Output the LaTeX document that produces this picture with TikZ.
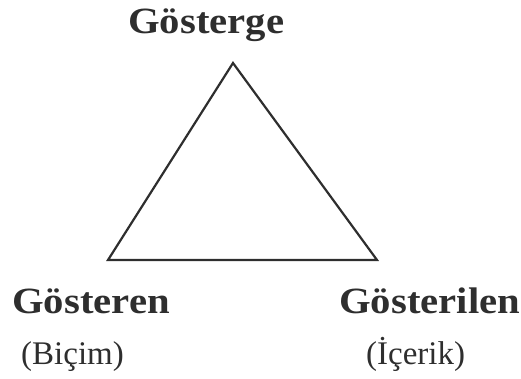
\documentclass[tikz,border=0pt]{standalone}
\usepackage{fontspec}
\setmainfont{Liberation Serif}
\definecolor{ink}{HTML}{2E2E2E}
\tikzset{
  title/.style={inner sep=0pt, anchor=base west, text=ink, font=\fontsize{37}{41}\selectfont\bfseries, xscale=1.1, transform shape},
  sub/.style={inner sep=0pt, anchor=base west, text=ink, font=\fontsize{33}{37}\selectfont},
  edge/.style={draw=ink, line width=2.2pt, line join=miter}
}
\begin{document}
\begin{tikzpicture}[x=1pt,y=-1pt]
\useasboundingbox (0,0) rectangle (521,378);
\coordinate (top) at (233,63);
\coordinate (bl) at (108,260);
\coordinate (br) at (377,260);
\draw[edge] (top) -- (bl) -- (br) -- cycle;
\node[title] (g) at (128,33) {Gösterge};
\node[title] (gn) at (12,313) {Gösteren};
\node[title] (gl) at (339,313) {Gösterilen};
\node[sub] (b) at (21,364) {(Biçim)};
\node[sub] (i) at (366,364) {(İçerik)};
\end{tikzpicture}
\end{document}
